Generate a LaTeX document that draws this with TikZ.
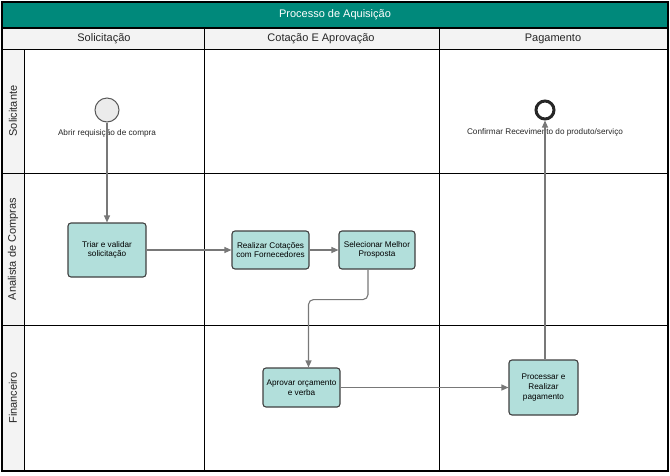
\documentclass[tikz,border=0pt]{standalone}
\usepackage{fontspec}
\setmainfont{Liberation Sans}
\usepackage{tikz}
\usetikzlibrary{positioning, arrows.meta, calc}
\definecolor{poolTeal}{RGB}{0,137,123}
\definecolor{headGrey}{RGB}{243,243,243}
\definecolor{taskFill}{RGB}{178,223,219}
\definecolor{flowGrey}{RGB}{120,120,120}

\begin{document}
\begin{tikzpicture}[x=1pt, y=-1pt,
	task/.style={draw=black!75, fill=taskFill, rounded corners=3pt, line width=1.1pt, align=center, inner sep=1pt, font=\fontsize{8.2}{9.6}\selectfont},
	flow/.style={draw=flowGrey, line width=1.1pt, -{Triangle[length=7pt, width=6pt]}},
	lbl/.style={font=\fontsize{8.2}{9}\selectfont, text=black!85},
	head/.style={font=\fontsize{11}{13}\selectfont, text=black!85}]
	\useasboundingbox (0,0) rectangle (670,475);
	
	% Pool title and column headers
	\fill[poolTeal] (2,2) rectangle (668,28);
	\node[text=white, font=\fontsize{11}{13}\selectfont] (pool) at (335,15) {Processo de Aquisição};
	\fill[headGrey] (2,28) rectangle (668,49);
	\fill[headGrey] (2,49) rectangle (24,471);
	\node[head] (col1) at (104,38.5) {Solicitação};
	\node[head] (col2) at (321,38.5) {Cotação E Aprovação};
	\node[head] (col3) at (553,38.5) {Pagamento};
	
	% Lane labels
	\node[head, rotate=90] (lane1) at (13,111) {Solicitante};
	\node[head, rotate=90] (lane2) at (13,249) {Analista de Compras};
	\node[head, rotate=90] (lane3) at (13,398) {Financeiro};
	
	% Grid
	\draw[line width=1.2pt] (2,28) -- (668,28);
	\draw[line width=1pt] (2,49) -- (668,49);
	\draw[line width=1pt] (2,173) -- (668,173);
	\draw[line width=1pt] (2,325) -- (668,325);
	\draw[line width=1pt] (24,49) -- (24,471);
	\draw[line width=1pt] (204,28) -- (204,471);
	\draw[line width=1pt] (439,28) -- (439,471);
	\draw[line width=1.5pt] (2,2) rectangle (668,471);
	
	% Events
	\node[circle, draw=black!65, fill=black!8, line width=1pt, minimum size=24pt, inner sep=0pt] (start) at (107,110) {};
	\node[lbl] (startlbl) at (107,133) {Abrir requisição de compra};
	\node[circle, draw=black!85, fill=white, line width=3pt, minimum size=18pt, inner sep=0pt] (end) at (545,110) {};
	\node[lbl] (endlbl) at (545,132) {Confirmar Recevimento do produto/serviço};
	
	% Tasks
	\node[task, minimum width=78pt, minimum height=54pt] (triar) at (107,250) {Triar e validar\\solicitação};
	\node[task, minimum width=77pt, minimum height=38pt] (cotar) at (270.5,250) {Realizar Cotações\\com Fornecedores};
	\node[task, minimum width=76pt, minimum height=38pt] (selec) at (377,250) {Selecionar Melhor\\Prosposta};
	\node[task, minimum width=77pt, minimum height=39pt] (aprov) at (301.5,387.5) {Aprovar orçamento\\e verba};
	\node[task, minimum width=69pt, minimum height=55pt] (pagar) at (543.5,387.5) {Processar e\\Realizar\\pagamento};
	
	% Flows
	\draw[flow] (start) -- (triar);
	\draw[flow] (triar) -- (cotar);
	\draw[flow] (cotar) -- (selec);
	\draw[flow, rounded corners=5pt] ([xshift=-9pt]selec.south) -- ++(0,30) -| ([xshift=7pt]aprov.north);
	\draw[flow] (aprov) -- (pagar);
	\draw[flow] ([xshift=1.5pt]pagar.north) -- (end);
\end{tikzpicture}
\end{document}
